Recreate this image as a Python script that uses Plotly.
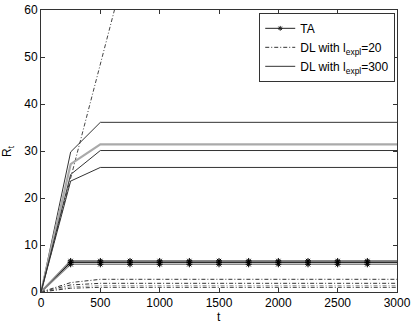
import plotly.graph_objects as go

# time points where the curves change
t_steps = [0, 250, 500, 3000]
t_ta = [0, 250, 500, 750, 1000, 1250, 1500, 1750, 2000, 2250, 2500, 2750, 3000]

# TA runs (flat after t=250)
ta_runs = [
    ([0] + [6.6] * 12, '#888888', 2),
    ([0] + [6.3] * 12, '#111111', 1),
    ([0] + [5.9] * 12, '#888888', 1.5),
]

# DL with l_expl=20 (dash-dot)
dl20_steep_t = [0, 250, 500, 750]
dl20_steep = [0, 24.2, 48.5, 72.7]
dl20_runs = [
    ([0, 2.0, 2.7, 2.7], '#333333'),
    ([0, 1.5, 1.85, 1.85], '#333333'),
    ([0, 1.1, 1.35, 1.35], '#999999'),
    ([0, 0.8, 1.0, 1.0], '#333333'),
]

# DL with l_expl=300 (solid)
dl300_runs = [
    ([0, 29.8, 36.1, 36.1], '#333333', 1),
    ([0, 27.2, 31.4, 31.4], '#aaaaaa', 2.2),
    ([0, 25.0, 30.1, 30.1], '#333333', 1),
    ([0, 23.6, 26.5, 26.5], '#333333', 1),
]

dd = '4px,2px,1px,2px'

fig = go.Figure()

for i, (y, col, w) in enumerate(ta_runs):
    fig.add_trace(go.Scatter(
        x=t_ta, y=y, mode='lines',
        line=dict(color=col, width=w), showlegend=False))
    fig.add_trace(go.Scatter(
        x=t_ta[1:-1], y=y[1:-1], mode='markers',
        marker=dict(symbol='asterisk-open', size=5, color='#000000',
                    line=dict(color='#000000', width=1)),
        showlegend=False))

# legend entries
fig.add_trace(go.Scatter(
    x=[None], y=[None], mode='lines+markers', name='TA',
    line=dict(color='#222222', width=1),
    marker=dict(symbol='asterisk-open', size=4, line=dict(color='#000', width=1))))
fig.add_trace(go.Scatter(
    x=[None], y=[None], mode='lines', name='DL with l<sub>expl</sub>=20',
    line=dict(color='#333333', width=1, dash=dd)))
fig.add_trace(go.Scatter(
    x=[None], y=[None], mode='lines', name='DL with l<sub>expl</sub>=300',
    line=dict(color='#333333', width=1)))

fig.add_trace(go.Scatter(
    x=dl20_steep_t, y=dl20_steep, mode='lines',
    line=dict(color='#444444', width=1, dash=dd), showlegend=False))
for y, col in dl20_runs:
    fig.add_trace(go.Scatter(
        x=t_steps, y=y, mode='lines',
        line=dict(color=col, width=1, dash=dd), showlegend=False))

for y, col, w in dl300_runs:
    fig.add_trace(go.Scatter(
        x=t_steps, y=y, mode='lines',
        line=dict(color=col, width=w), showlegend=False))

axis_style = dict(
    showline=True, linecolor='#333333', linewidth=1, mirror='ticks',
    ticks='inside', ticklen=4, tickcolor='#333333', showgrid=False,
    zeroline=False, automargin=False, tickfont=dict(size=12, color='#000'))

fig.update_xaxes(range=[0, 3000], tickvals=[0, 500, 1000, 1500, 2000, 2500, 3000],
                 **axis_style)
fig.update_yaxes(range=[0, 60], tickvals=[0, 10, 20, 30, 40, 50, 60],
                 **axis_style)

# axis titles as annotations so they sit where the original puts them
fig.add_annotation(text='t', xref='paper', yref='paper', x=0.5, y=0,
                   yshift=-16, yanchor='top', showarrow=False,
                   font=dict(size=12))
fig.add_annotation(text='R<sub>t</sub>', xref='paper', yref='paper', x=0, y=0.5,
                   xshift=-33, xanchor='center', textangle=-90, showarrow=False,
                   font=dict(size=12))

fig.update_layout(
    width=415, height=323,
    margin=dict(l=41, r=18, t=10, b=31),
    paper_bgcolor='white', plot_bgcolor='white',
    font=dict(family='Liberation Sans, Arial', size=12, color='#000'),
    legend=dict(x=0.995, y=0.99, xanchor='right', yanchor='top',
                bgcolor='white', bordercolor='#333333', borderwidth=1,
                font=dict(size=12), tracegroupgap=0,
                itemwidth=30),
)

# drop the default 8px page margin so the figure sits at the window corner
fig.write_html("out.html", config={'displayModeBar': False},
               post_script="document.body.style.margin='0px';")
